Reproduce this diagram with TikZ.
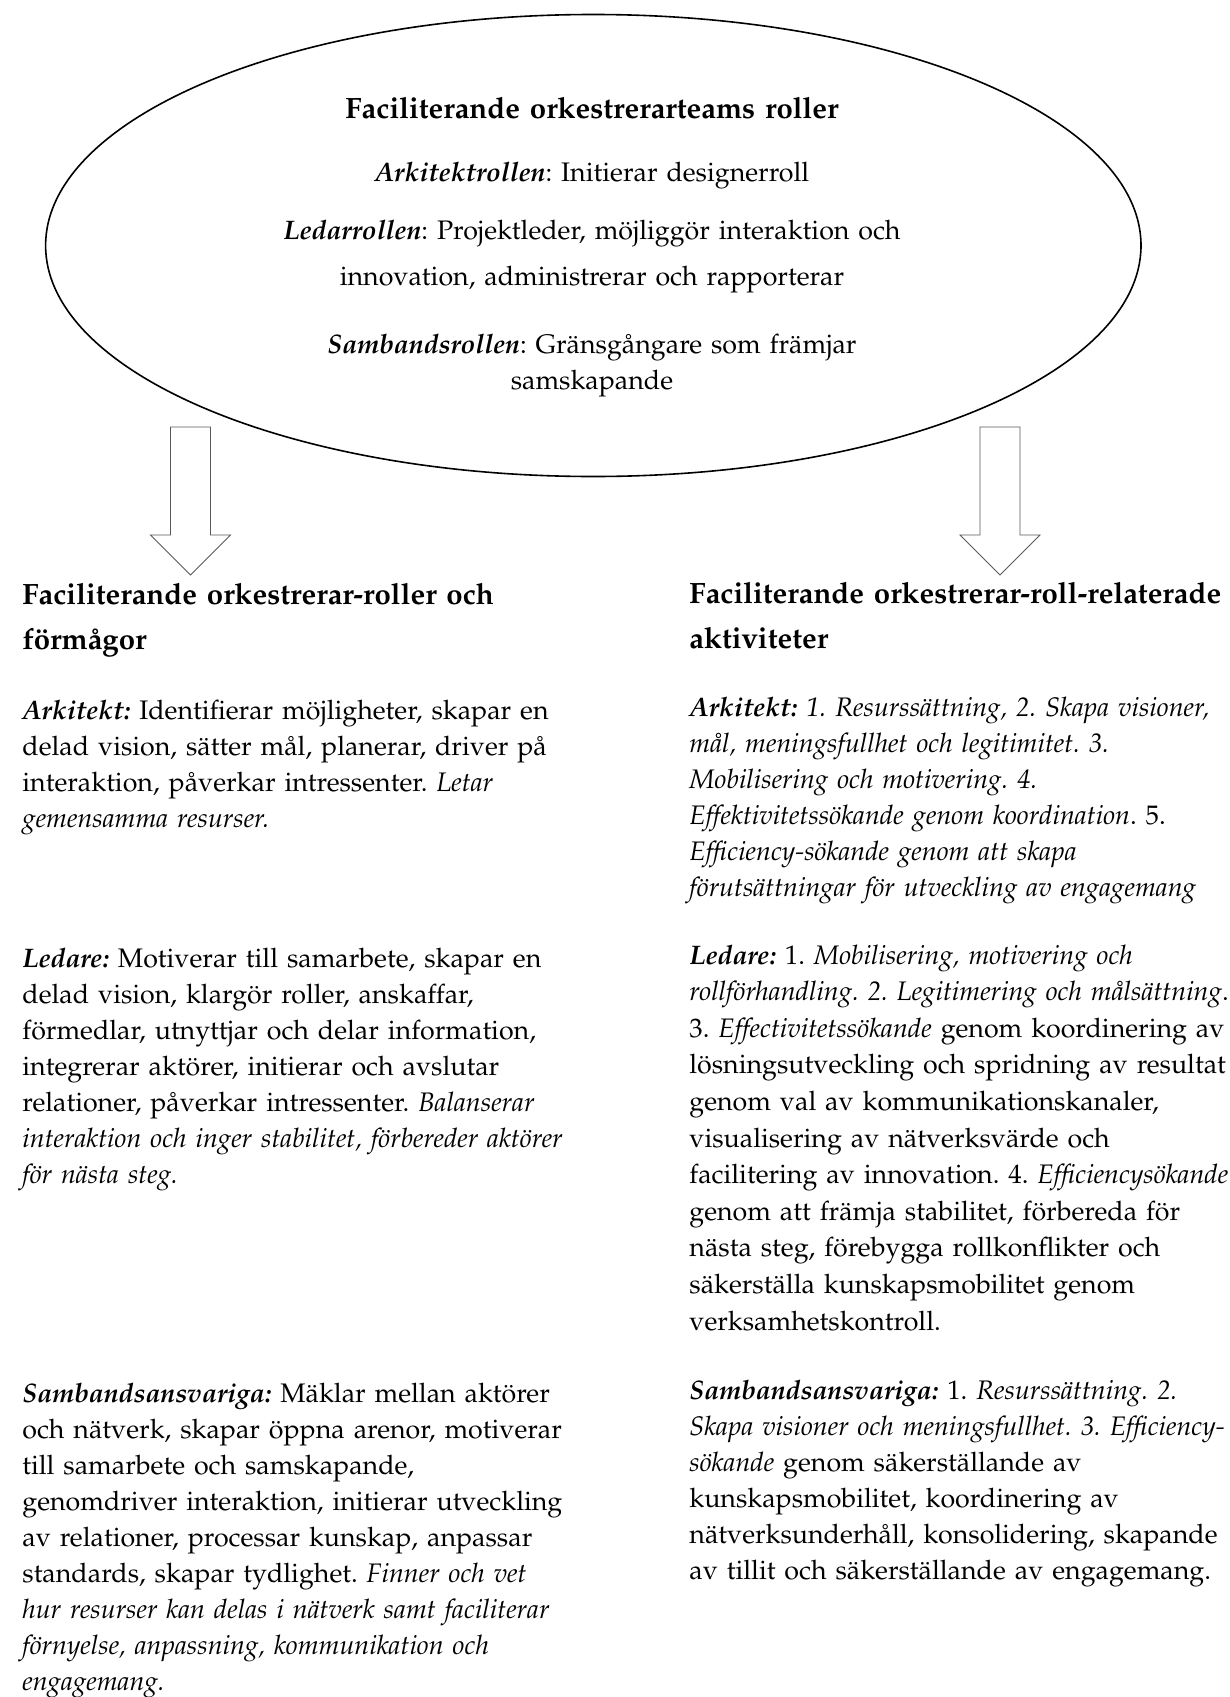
\documentclass[tikz,border=0pt]{standalone}
\usepackage[T1]{fontenc}
\usepackage{mathpazo}
\usepackage{tikz}
\usetikzlibrary{shapes.geometric, positioning}
\definecolor{arrow_gray}{rgb}{0.35, 0.35, 0.35}
\tikzset{
  bodytext/.style={anchor=base west, inner sep=0pt, text width=300pt, align=left, font=\fontsize{13.4}{18}\selectfont\frenchspacing},
  headtext/.style={anchor=base west, inner sep=0pt, text width=300pt, align=left, font=\fontsize{14.7}{22.5}\selectfont\bfseries},
  rolltext/.style={anchor=base, inner sep=0pt, text width=500pt, align=center, font=\fontsize{13.4}{18}\selectfont\frenchspacing},
  blockarrow/.style={draw=arrow_gray, fill=white, line width=0.45pt, line join=miter}
}
\newcommand{\bfit}[1]{\textbf{\textit{#1}}}

\begin{document}
\begin{tikzpicture}[x=0.5pt, y=-0.5pt]
        \useasboundingbox (0,0) rectangle (1230,1697);
        \node[draw, ellipse, line width=0.8pt, minimum width=547.7pt, minimum height=231pt] (roles) at (593.3,245.5) {};
        \node[rolltext, font=\fontsize{14.7}{18}\selectfont\bfseries] (title) at (592,118.5) {Faciliterande orkestrerarteams roller};
        \node[rolltext] (arkroll) at (592,181.7) {\bfit{Arkitektrollen}: Initierar designerroll};
        \node[rolltext] (ledroll) at (592,239.3) {\bfit{Ledarrollen}: Projektleder, möjliggör interaktion och\\[5.3pt] innovation, administrerar och rapporterar};
        \node[rolltext] (sambroll) at (592,353.3) {\bfit{Sambandsrollen}: Gränsgångare som främjar\\ samskapande};

        \filldraw[blockarrow] (170.5,427) -- (210.5,427) -- (210.5,535) -- (230.5,535) -- (190.5,575) -- (150.5,535) -- (170.5,535) -- cycle;
        \filldraw[blockarrow] (980,427) -- (1020,427) -- (1020,535) -- (1040,535) -- (1000,575) -- (960,535) -- (980,535) -- cycle;

        \node[headtext] (lefthead) at (22,604) {Faciliterande orkestrerar-roller och\\ förmågor};
        \node[bodytext] (leftark) at (22,719) {\bfit{Arkitekt:} Identifierar möjligheter, skapar en\\ delad vision, sätter mål, planerar, driver på\\ interaktion, påverkar intressenter. \textit{Letar}\\ \textit{gemensamma resurser.}};
        \node[bodytext] (leftled) at (22,967) {\bfit{Ledare:} Motiverar till samarbete, skapar en\\ delad vision, klargör roller, anskaffar,\\ förmedlar, utnyttjar och delar information,\\ integrerar aktörer, initierar och avslutar\\ relationer, påverkar intressenter. \textit{Balanserar}\\ \textit{interaktion och inger stabilitet, förbereder aktörer}\\ \textit{för nästa steg.}};
        \node[bodytext] (leftsamb) at (22,1402) {\bfit{Sambandsansvariga:} Mäklar mellan aktörer\\ och nätverk, skapar öppna arenor, motiverar\\ till samarbete och samskapande,\\ genomdriver interaktion, initierar utveckling\\ av relationer, processar kunskap, anpassar\\ standards, skapar tydlighet. \textit{Finner och vet}\\ \textit{hur resurser kan delas i nätverk samt faciliterar}\\ \textit{förnyelse, anpassning, kommunikation och}\\ \textit{engagemang.}};

        \node[headtext] (righthead) at (689,603) {Faciliterande orkestrerar-roll-relaterade\\ aktiviteter};
        \node[bodytext] (rightark) at (689,716) {\bfit{Arkitekt:} \textit{1. Resurssättning, 2. Skapa visioner,}\\ \textit{mål, meningsfullhet och legitimitet. 3.}\\ \textit{Mobilisering och motivering. 4.}\\ \textit{Effektivitetssökande genom koordination}. 5.\\ \textit{Efficiency-sökande genom att skapa}\\ \textit{förutsättningar för utveckling av engagemang}};
        \node[bodytext, font=\fontsize{13.4}{18.3}\selectfont\frenchspacing] (rightled) at (689,964) {\bfit{Ledare:} 1. \textit{Mobilisering, motivering och}\\ \textit{rollförhandling. 2. Legitimering och målsättning}.\\ 3. \textit{Effectivitetssökande} genom koordinering av\\ lösningsutveckling och spridning av resultat\\ genom val av kommunikationskanaler,\\ visualisering av nätverksvärde och\\ facilitering av innovation. 4. \textit{Efficiencysökande}\\ genom att främja stabilitet, förbereda för\\ nästa steg, förebygga rollkonflikter och\\ säkerställa kunskapsmobilitet genom\\ verksamhetskontroll.};
        \node[bodytext] (rightsamb) at (689,1399) {\bfit{Sambandsansvariga:} 1. \textit{Resurssättning. 2.}\\ \textit{Skapa visioner och meningsfullhet. 3. Efficiency-}\\ \textit{sökande} genom säkerställande av\\ kunskapsmobilitet, koordinering av\\ nätverksunderhåll, konsolidering, skapande\\ av tillit och säkerställande av engagemang.};
    \end{tikzpicture}
\end{document}
